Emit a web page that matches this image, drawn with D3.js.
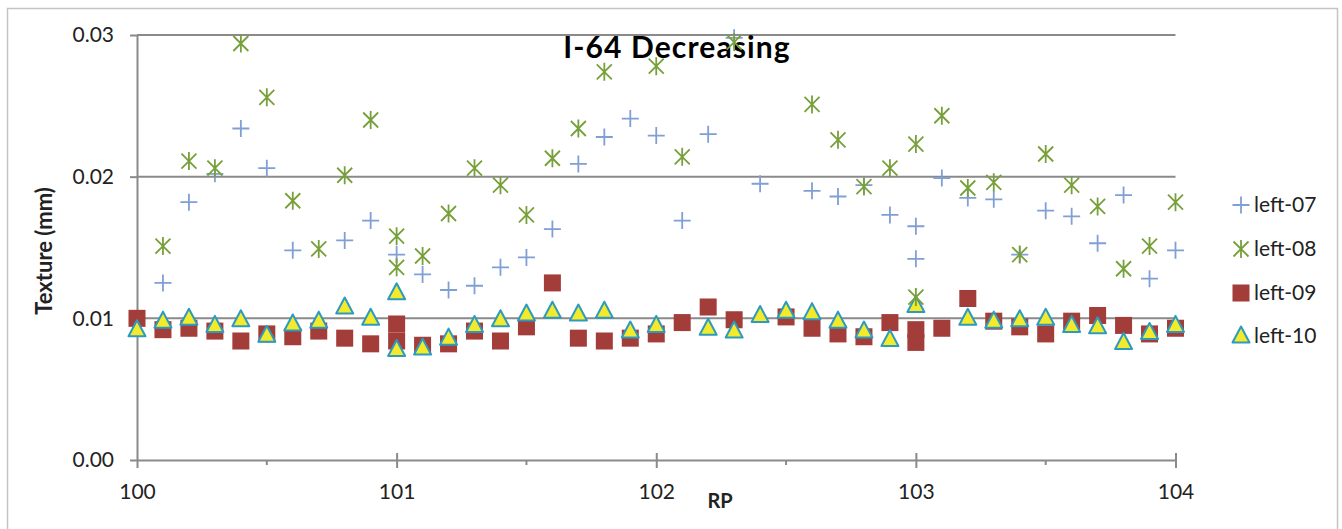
<!DOCTYPE html>
<html><head><meta charset="utf-8">
<script src="https://cdn.jsdelivr.net/npm/d3@7/dist/d3.min.js"></script>
<style>body{margin:0;background:#fff;} svg{display:block;} text{font-family:Lato,"Open Sans",sans-serif;}</style>
</head><body><svg id="c" width="1342" height="529"></svg>
<script>
const rp = [100.0,100.1,100.2,100.3,100.4,100.5,100.6,100.7,100.8,100.9,101.0,101.0,
  101.1,101.2,101.3,101.4,101.5,101.6,101.7,101.8,101.9,102.0,102.1,102.2,102.3,102.4,102.5,102.6,102.7,102.8,102.9,103.0,103.0,
  103.1,103.2,103.3,103.4,103.5,103.6,103.7,103.8,103.9,104.0];
const left07 = [null,0.0125,0.0182,0.0202,0.0234,0.0206,0.0148,null,0.0155,0.0169,0.0145,null,
  0.0131,0.0120,0.0123,0.0136,0.0143,0.0163,0.0209,0.0228,0.0241,0.0229,0.0169,0.0230,0.0298,0.0195,null,0.0190,0.0186,0.0194,0.0173,0.0165,0.0142,
  0.0199,0.0185,0.0184,0.0145,0.0176,0.0172,0.0153,0.0187,0.0128,0.0148];
const left08 = [null,0.0151,0.0211,0.0206,0.0294,0.0256,0.0183,0.0149,0.0201,0.0240,0.0158,0.0136,
  0.0144,0.0174,0.0206,0.0194,0.0173,0.0213,0.0234,0.0274,null,0.0278,0.0214,null,0.0295,null,null,0.0251,0.0226,0.0193,0.0206,0.0223,0.0115,
  0.0243,0.0192,0.0196,0.0145,0.0216,0.0194,0.0179,0.0135,0.0151,0.0182];
const left09 = [0.0100,0.0092,0.0093,0.0091,0.0084,0.0089,0.0087,0.0091,0.0086,0.0082,0.0096,0.0084,
  0.0081,0.0082,0.0091,0.0084,0.0094,0.0125,0.0086,0.0084,0.0086,0.0089,0.0097,0.0108,0.0099,null,0.0101,0.0093,0.0089,0.0087,0.0097,0.0092,0.0083,
  0.0093,0.0114,0.0098,0.0094,0.0089,0.0098,0.0102,0.0095,0.0089,0.0093];
const left10 = [0.0092,0.0098,0.0100,0.0095,0.0099,0.0088,0.0096,0.0098,0.0108,0.0100,0.0118,0.0078,
  0.0079,0.0086,0.0095,0.0099,0.0103,0.0105,0.0103,0.0105,0.0091,0.0095,null,0.0093,0.0091,0.0102,0.0105,0.0104,0.0098,0.0091,0.0085,0.0109,null,
  null,0.0100,0.0098,0.0099,0.0100,0.0095,0.0094,0.0083,0.0090,0.0095];
const seriesNames = ["left-07","left-08","left-09","left-10"];
const xTicks = [100,101,102,103,104];
const xMinorTicks = [100.5,101.5,102.5,103.5];
const yTicks = [0,0.01,0.02,0.03];

const svg = d3.select("#c");
const x = d3.scaleLinear().domain([100,104]).range([137,1175.5]);
const y = d3.scaleLinear().domain([0,0.03]).range([460,35]);
const gridCol = "#8a8a8a";

svg.append("rect").attr("x",7.5).attr("y",8.5).attr("width",1330).attr("height",540)
  .attr("fill","none").attr("stroke","#c4c4c4").attr("stroke-width",1.5);

// gridlines
svg.append("g").selectAll("line").data(yTicks.filter(d=>d>0)).join("line")
  .attr("x1",x(100)).attr("x2",x(104)).attr("y1",d=>y(d)).attr("y2",d=>y(d))
  .attr("stroke",gridCol).attr("stroke-width",2);

// y axis
const ya = svg.append("g").attr("transform",`translate(${x(100)},0)`)
  .call(d3.axisLeft(y).tickValues(yTicks).tickFormat(d3.format(".2f")).tickSizeInner(7).tickSizeOuter(0).tickPadding(16));
ya.select(".domain").attr("stroke",gridCol).attr("stroke-width",2);
ya.selectAll(".tick line").attr("stroke",gridCol).attr("stroke-width",2);
ya.selectAll(".tick text").attr("font-size",21).attr("fill","#222").attr("font-family","Lato");

// x axis
const xa = svg.append("g").attr("transform",`translate(0,${y(0)})`)
  .call(d3.axisBottom(x).tickValues(xTicks).tickFormat(d3.format("d")).tickSizeInner(8).tickSizeOuter(0).tickPadding(16));
xa.select(".domain").attr("stroke",gridCol).attr("stroke-width",2);
xa.selectAll(".tick line").attr("stroke",gridCol).attr("stroke-width",2).attr("y1",d=>d===100?0:-7);
xa.selectAll(".tick text").attr("font-size",21).attr("fill","#222").attr("font-family","Lato");
svg.append("g").selectAll("line").data(xMinorTicks).join("line")
  .attr("x1",d=>x(d)).attr("x2",d=>x(d)).attr("y1",y(0)).attr("y2",y(0)+5)
  .attr("stroke",gridCol).attr("stroke-width",2);

// titles
svg.append("text").attr("x",677).attr("y",58).attr("text-anchor","middle")
  .attr("font-size",30).attr("font-weight","bold").attr("letter-spacing",1.1).attr("fill","#000").text("I-64 Decreasing");
svg.append("text").attr("x",720).attr("y",508).attr("text-anchor","middle")
  .attr("font-size",20).attr("font-weight","bold").attr("fill","#222").text("RP");
svg.append("text").attr("transform","translate(52,251) rotate(-90)").attr("text-anchor","middle")
  .attr("font-size",22).attr("font-weight","bold").attr("fill","#222").text("Texture (mm)");

// marker drawers
const cPlus="#7f9fd5", cStar="#77a03a", cSq="#a33d3a", cTriF="#f2ea2a", cTriS="#2d9ac0";
function drawPlus(g){ g.append("path").attr("d","M-8.5,0H8.5M0,-8.5V8.5").attr("stroke",cPlus).attr("stroke-width",1.8).attr("fill","none"); }
function drawStar(g){ g.append("path").attr("d","M0,-9V9M-7.5,-7.5L7.5,7.5M-7.5,7.5L7.5,-7.5").attr("stroke",cStar).attr("stroke-width",1.8).attr("fill","none"); }
function drawSq(g){ g.append("rect").attr("x",-8.5).attr("y",-8.5).attr("width",17).attr("height",17).attr("fill",cSq); }
function drawTri(g){ g.append("path").attr("d","M0,-9.5L8.5,6.5L-8.5,6.5Z").attr("fill",cTriF).attr("stroke",cTriS).attr("stroke-width",2).attr("stroke-linejoin","round"); }
const drawers=[drawPlus,drawStar,drawSq,drawTri];
const allSeries=[left07,left08,left09,left10];

const order=[2,3,0,1];
order.forEach(si=>{
  const pts = rp.map((r,i)=>({r, v: allSeries[si][i]})).filter(d=>d.v!==null);
  const g = svg.append("g");
  g.selectAll("g").data(pts).join("g")
    .attr("transform",d=>`translate(${x(d.r)},${y(d.v)})`)
    .each(function(){ drawers[si](d3.select(this)); });
});

// legend
const legY=[205,249,293,336];
seriesNames.forEach((n,i)=>{
  const g=svg.append("g").attr("transform",`translate(1241,${legY[i]})`);
  drawers[i](g);
  svg.append("text").attr("x",1254).attr("y",legY[i]+7).attr("font-size",21).attr("fill","#222").text(n);
});
</script></body></html>
